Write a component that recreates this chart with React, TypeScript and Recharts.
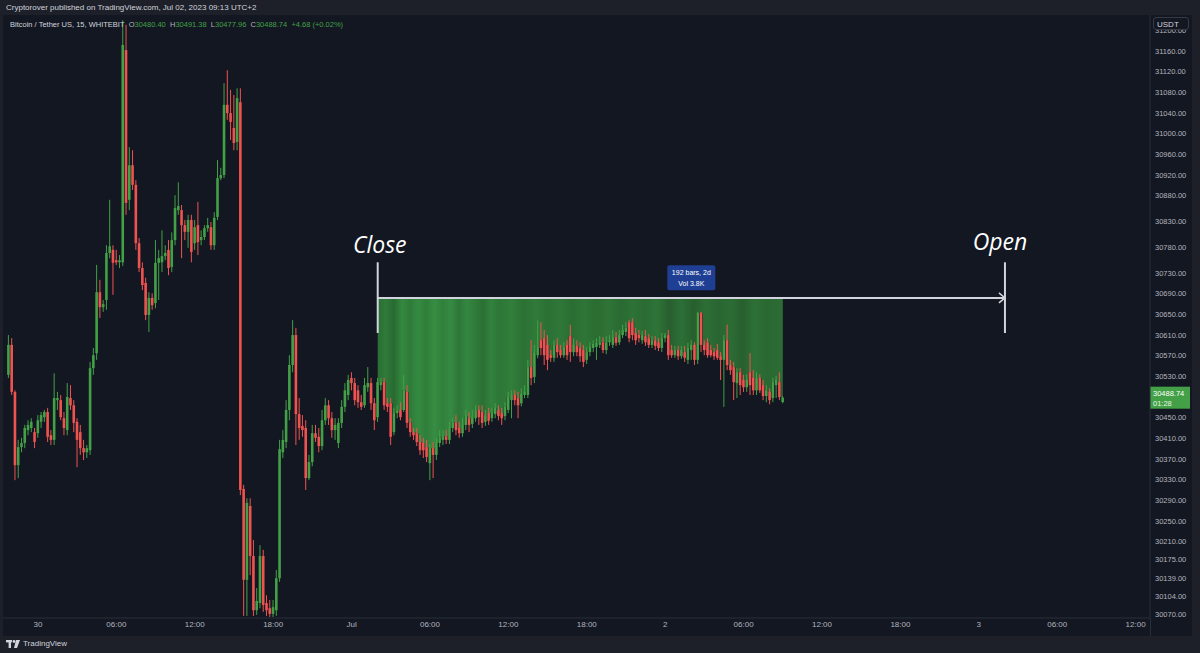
import React from 'react';
import {
  ComposedChart,
  Bar,
  Area,
  XAxis,
  YAxis,
  ReferenceLine,
  ReferenceDot,
} from 'recharts';

// 15m BTC/USDT candles, bar index 0 = Jun 30 00:00
const FIRST_BAR = -9;

const OPEN = [
  30533, 30591, 30500, 30358, 30393, 30401, 30426, 30430, 30422, 30420,
  30442, 30451, 30461, 30416, 30407, 30484, 30484, 30449, 30426, 30488,
  30474, 30442, 30422, 30391, 30383, 30387, 30546, 30575, 30693, 30664,
  30678, 30769, 30775, 30755, 30751, 30751, 31162, 30872, 30939, 30901,
  30788, 30740, 30711, 30649, 30682, 30672, 30750, 30751, 30763, 30775,
  30742, 30794, 30852, 30852, 30823, 30810, 30833, 30788, 30823, 30794,
  30800, 30817, 30819, 30784, 30839, 30914, 30920, 31056, 31040, 31011,
  30984, 31061, 30312, 30136, 30279, 30182, 30077, 30091, 30182, 30091,
  30081, 30070, 30077, 30139, 30383, 30403, 30465, 30552, 30610, 30457,
  30434, 30430, 30333, 30364, 30420, 30413, 30395, 30445, 30474, 30449,
  30426, 30401, 30440, 30471, 30494, 30527, 30517, 30503, 30480, 30474,
  30509, 30517, 30478, 30451, 30513, 30519, 30478, 30478, 30422, 30459,
  30465, 30465, 30500, 30440, 30422, 30420, 30403, 30401, 30393, 30362,
  30391, 30378, 30401, 30407, 30414, 30407, 30430, 30440, 30430, 30420,
  30436, 30449, 30438, 30449, 30465, 30461, 30442, 30459, 30449, 30457,
  30465, 30459, 30453, 30465, 30484, 30494, 30488, 30478, 30494, 30494,
  30548, 30529, 30571, 30600, 30604, 30591, 30571, 30566, 30591, 30581,
  30571, 30591, 30608, 30577, 30589, 30585, 30581, 30562, 30577, 30585,
  30587, 30591, 30596, 30581, 30596, 30591, 30606, 30596, 30610, 30616,
  30635, 30635, 30614, 30610, 30600, 30608, 30604, 30591, 30600, 30596,
  30585, 30604, 30610, 30581, 30571, 30581, 30569, 30577, 30562, 30581,
  30591, 30562, 30653, 30591, 30596, 30581, 30577, 30581, 30569, 30562,
  30600, 30552, 30548, 30517, 30538, 30523, 30509, 30538, 30527, 30503,
  30527, 30513, 30492, 30500, 30488, 30513, 30519, 30480.4,
];

const HIGH = [
  30610, 30604, 30503, 30407, 30411, 30436, 30445, 30449, 30430, 30455,
  30461, 30465, 30469, 30426, 30536, 30500, 30494, 30461, 30517, 30513,
  30484, 30449, 30436, 30407, 30397, 30558, 30585, 30746, 30717, 30678,
  30784, 30872, 30784, 30775, 30765, 31220, 31211, 30974, 30968, 30910,
  30798, 30751, 30721, 30693, 30691, 30794, 30775, 30813, 30784, 30794,
  30809, 30881, 30906, 30862, 30833, 30843, 30843, 30833, 30868, 30813,
  30823, 30837, 30829, 30848, 30949, 30934, 31098, 31123, 31085, 31075,
  31088, 31088, 30320, 30294, 30294, 30213, 30120, 30203, 30194, 30106,
  30097, 30097, 30155, 30407, 30426, 30484, 30571, 30639, 30624, 30488,
  30455, 30445, 30378, 30436, 30436, 30430, 30465, 30488, 30484, 30461,
  30449, 30449, 30484, 30517, 30533, 30538, 30527, 30513, 30494, 30527,
  30548, 30527, 30488, 30527, 30527, 30527, 30488, 30488, 30469, 30474,
  30480, 30533, 30513, 30449, 30430, 30430, 30416, 30411, 30407, 30399,
  30403, 30411, 30426, 30426, 30426, 30442, 30449, 30455, 30442, 30449,
  30465, 30461, 30465, 30474, 30474, 30474, 30465, 30469, 30469, 30478,
  30474, 30469, 30480, 30500, 30503, 30503, 30500, 30507, 30513, 30562,
  30600, 30591, 30639, 30635, 30620, 30610, 30581, 30600, 30604, 30591,
  30596, 30600, 30630, 30604, 30600, 30596, 30591, 30587, 30596, 30600,
  30604, 30608, 30606, 30608, 30610, 30620, 30616, 30620, 30630, 30635,
  30639, 30643, 30624, 30620, 30618, 30620, 30612, 30608, 30608, 30604,
  30614, 30614, 30620, 30591, 30589, 30589, 30589, 30589, 30595, 30600,
  30596, 30655, 30655, 30600, 30604, 30591, 30585, 30593, 30577, 30610,
  30630, 30562, 30558, 30546, 30546, 30533, 30534, 30575, 30542, 30538,
  30534, 30523, 30513, 30507, 30527, 30531, 30538, 30491.38,
];

const LOW = [
  30527, 30494, 30329, 30333, 30383, 30391, 30416, 30422, 30391, 30411,
  30430, 30442, 30403, 30397, 30397, 30465, 30445, 30416, 30416, 30465,
  30422, 30354, 30378, 30368, 30372, 30378, 30533, 30562, 30643, 30655,
  30659, 30759, 30688, 30746, 30740, 30744, 30843, 30852, 30891, 30775,
  30732, 30697, 30639, 30616, 30659, 30662, 30678, 30732, 30755, 30726,
  30732, 30784, 30843, 30759, 30794, 30779, 30751, 30775, 30765, 30784,
  30794, 30810, 30775, 30775, 30833, 30910, 30914, 31027, 30988, 30968,
  30968, 30300, 30066, 30066, 30145, 30066, 30068, 30081, 30074, 30066,
  30064, 30064, 30066, 30132, 30372, 30391, 30445, 30538, 30397, 30407,
  30413, 30310, 30329, 30356, 30403, 30383, 30387, 30436, 30436, 30411,
  30407, 30391, 30430, 30461, 30484, 30503, 30474, 30469, 30465, 30469,
  30500, 30465, 30426, 30442, 30503, 30465, 30461, 30397, 30416, 30449,
  30445, 30461, 30430, 30413, 30407, 30395, 30378, 30372, 30364, 30329,
  30333, 30368, 30393, 30397, 30399, 30399, 30422, 30416, 30411, 30413,
  30426, 30422, 30430, 30442, 30436, 30430, 30434, 30436, 30442, 30449,
  30445, 30436, 30445, 30459, 30449, 30474, 30449, 30472, 30488, 30488,
  30513, 30517, 30565, 30571, 30552, 30542, 30558, 30558, 30566, 30566,
  30566, 30562, 30558, 30569, 30569, 30558, 30548, 30554, 30569, 30577,
  30562, 30585, 30575, 30573, 30589, 30585, 30589, 30591, 30604, 30608,
  30596, 30600, 30591, 30596, 30593, 30589, 30585, 30585, 30581, 30579,
  30577, 30596, 30562, 30566, 30566, 30562, 30564, 30558, 30554, 30562,
  30552, 30554, 30577, 30571, 30566, 30567, 30562, 30562, 30523, 30471,
  30542, 30533, 30484, 30488, 30494, 30500, 30500, 30494, 30494, 30494,
  30498, 30484, 30480, 30476, 30480, 30488, 30484, 30477.96,
];

const CLOSE = [
  30591, 30500, 30358, 30393, 30401, 30430, 30436, 30442, 30403, 30445,
  30455, 30461, 30413, 30407, 30488, 30488, 30451, 30430, 30490, 30474,
  30440, 30407, 30391, 30383, 30391, 30546, 30571, 30693, 30664, 30670,
  30769, 30782, 30750, 30751, 30755, 31172, 30866, 30939, 30901, 30788,
  30740, 30707, 30649, 30682, 30668, 30750, 30759, 30763, 30769, 30740,
  30794, 30856, 30860, 30823, 30810, 30833, 30771, 30819, 30790, 30800,
  30817, 30823, 30784, 30837, 30914, 30920, 31056, 31040, 31023, 30982,
  31069, 30310, 30136, 30285, 30182, 30077, 30095, 30182, 30087, 30077,
  30070, 30083, 30139, 30389, 30407, 30465, 30552, 30610, 30457, 30430,
  30426, 30333, 30364, 30420, 30411, 30395, 30445, 30474, 30449, 30426,
  30436, 30440, 30471, 30503, 30523, 30517, 30484, 30480, 30471, 30513,
  30517, 30478, 30445, 30519, 30519, 30474, 30471, 30413, 30459, 30463,
  30451, 30503, 30440, 30422, 30416, 30403, 30387, 30387, 30374, 30391,
  30378, 30401, 30411, 30414, 30407, 30430, 30440, 30426, 30420, 30436,
  30453, 30436, 30451, 30465, 30451, 30440, 30455, 30444, 30459, 30469,
  30453, 30449, 30471, 30490, 30494, 30484, 30474, 30496, 30500, 30548,
  30527, 30577, 30587, 30585, 30571, 30562, 30566, 30591, 30577, 30571,
  30585, 30571, 30577, 30591, 30577, 30569, 30558, 30577, 30587, 30593,
  30595, 30596, 30581, 30596, 30600, 30606, 30595, 30610, 30620, 30624,
  30604, 30610, 30600, 30604, 30610, 30596, 30591, 30600, 30589, 30585,
  30604, 30610, 30571, 30571, 30581, 30569, 30581, 30566, 30585, 30591,
  30562, 30653, 30591, 30581, 30571, 30571, 30569, 30566, 30562, 30600,
  30552, 30542, 30519, 30538, 30513, 30509, 30523, 30513, 30503, 30527,
  30503, 30492, 30503, 30484, 30519, 30523, 30490, 30488.74,
];

const TIME_TICKS = [0, 24, 48, 72, 96, 120, 144, 168, 192, 216, 240, 264, 288, 312, 336];
const TIME_LABELS = ['30', '06:00', '12:00', '18:00', 'Jul', '06:00', '12:00', '18:00', '2', '06:00', '12:00', '18:00', '3', '06:00', '12:00'];

const PRICE_TICKS = [
  31200, 31160, 31120, 31080, 31040, 31000, 30960, 30920, 30880, 30830, 30780, 30730,
  30690, 30650, 30610, 30570, 30530, 30450, 30410, 30370, 30330, 30290, 30250, 30210,
  30175, 30139, 30104, 30070,
];

// date range tool: Jul 1 02:00 -> Jul 3 02:00 (192 bars)
const RANGE_START = 104;
const RANGE_END = 296;
const RANGE_PRICE = 30682;
const RANGE_MARK_TOP = 30751;
const RANGE_MARK_BOTTOM = 30614;
const LAST_PRICE = 30488.74;

const GREEN = '#43a047';
const RED = '#ef5350';
const TEXT = '#d1d4dc';
const AXIS_TEXT = '#b2b5be';
const BORDER = '#2a2e39';
const FONT = '"Liberation Sans", Arial, sans-serif';

const data = OPEN.map((o, k) => {
  const t = FIRST_BAR + k;
  return {
    t,
    o,
    h: HIGH[k],
    l: LOW[k],
    c: CLOSE[k],
    range: [LOW[k], HIGH[k]],
    zone: t >= RANGE_START ? [Math.max(o, CLOSE[k]), RANGE_PRICE] : null,
  };
});

const Candle = (props: any) => {
  const { x, y, width, height, payload } = props;
  if (!payload) return null;
  const { o, h, l, c } = payload;
  const top = Math.min(y, y + height);
  const span = Math.abs(height);
  const k = h === l ? 0 : span / (h - l);
  const yO = top + (h - o) * k;
  const yC = top + (h - c) * k;
  const color = c >= o ? GREEN : RED;
  const cx = x + width / 2;
  const bodyTop = Math.min(yO, yC);
  const bodyH = Math.max(1, Math.abs(yC - yO));
  return (
    <g>
      <line x1={cx} x2={cx} y1={top} y2={top + span} stroke={color} strokeWidth={1} />
      <rect x={cx - 1.3} y={bodyTop} width={2.6} height={bodyH} fill={color} />
    </g>
  );
};

const BigText = (text: string, dx: number) => (props: any) => (
  <text
    x={props.cx + dx}
    y={props.cy}
    textAnchor="middle"
    fill="#ffffff"
    fontSize={23}
    fontStyle="italic"
    fontFamily='"Open Sans", "Noto Sans", sans-serif'
  >
    {text}
  </text>
);

const InfoBox = (props: any) => {
  const { cx, cy } = props;
  return (
    <g>
      <rect x={cx - 24} y={cy - 13} width={48} height={25} rx={2} fill="#1e3f93" />
      <text x={cx} y={cy - 3} textAnchor="middle" fill="#ffffff" fontSize={7} fontFamily={FONT}>
        192 bars, 2d
      </text>
      <text x={cx} y={cy + 8} textAnchor="middle" fill="#ffffff" fontSize={7} fontFamily={FONT}>
        Vol 3.8K
      </text>
    </g>
  );
};

const Arrow = (props: any) => {
  const { cx, cy } = props;
  return (
    <path
      d={`M${cx - 6},${cy - 5} L${cx},${cy} L${cx - 6},${cy + 5}`}
      fill="none"
      stroke={TEXT}
      strokeWidth={1.5}
    />
  );
};

const PriceTag = (props: any) => {
  const vb = props.viewBox || {};
  const x = (vb.x || 0) + (vb.width || 0);
  const y = vb.y || 0;
  return (
    <g>
      <rect x={x} y={y - 11} width={40} height={22} fill={GREEN} />
      <text x={x + 3} y={y - 2} fill="#ffffff" fontSize={7.5} fontFamily={FONT}>
        30488.74
      </text>
      <text x={x + 3} y={y + 8} fill="#e8f5e9" fontSize={7.5} fontFamily={FONT}>
        01:28
      </text>
    </g>
  );
};

const ZONE_STOPS = [
  ['0', '#2a6e34'], ['0.02', '#2f7a39'], ['0.04', '#286a31'], ['0.06', '#34883f'],
  ['0.08', '#2e7b39'], ['0.1', '#358a41'], ['0.12', '#2f7e3a'], ['0.14', '#378d43'],
  ['0.16', '#30803b'], ['0.18', '#368a42'], ['0.2', '#2d7737'], ['0.22', '#348640'],
  ['0.24', '#2f7c39'], ['0.26', '#2a7034'], ['0.28', '#32823d'], ['0.3', '#2d7637'],
  ['0.33', '#327e3b'], ['0.36', '#2b7134'], ['0.39', '#307a39'], ['0.42', '#2b7035'],
  ['0.45', '#2f7738'], ['0.48', '#2a6d33'], ['0.51', '#2e7537'], ['0.54', '#2a6c32'],
  ['0.57', '#2f7437'], ['0.6', '#296a32'], ['0.63', '#2d7236'], ['0.66', '#2a6b33'],
  ['0.69', '#2e7437'], ['0.72', '#285f2f'], ['0.75', '#2c6f35'], ['0.78', '#275f2e'],
  ['0.81', '#2d6e35'], ['0.84', '#296531'], ['0.87', '#2c6d34'], ['0.9', '#285f2f'],
  ['0.93', '#2d7036'], ['0.96', '#2a6832'], ['1', '#2c6d34'],
];

export default function App() {
  return (
    <div style={{ position: 'relative', width: 1200, height: 653, background: '#1d2029', fontFamily: FONT, overflow: 'hidden' }}>
      <style>{'body{margin:0}'}</style>
      <div style={{ position: 'absolute', left: 6, top: 3, fontSize: 8, color: TEXT }}>
        Cryptorover published on TradingView.com, Jul 02, 2023 09:13 UTC+2
      </div>

      <div style={{ position: 'absolute', left: 3, top: 15, width: 1189, height: 621, background: '#131722' }}>
        <ComposedChart width={1189} height={621} data={data} margin={{ top: 0, right: 0, bottom: 0, left: 0 }}>
          <defs>
            <linearGradient id="zoneFill" x1="0" y1="0" x2="1" y2="0">
              {ZONE_STOPS.map(([off, col]) => (
                <stop key={off} offset={off} stopColor={col} />
              ))}
            </linearGradient>
          </defs>
          <XAxis
            dataKey="t"
            type="number"
            domain={[-10.7, 340.4]}
            allowDataOverflow
            ticks={TIME_TICKS}
            interval={0}
            tickFormatter={(v: number) => TIME_LABELS[TIME_TICKS.indexOf(v)] ?? ''}
            height={18}
            tickLine={false}
            tickSize={0}
            axisLine={{ stroke: BORDER }}
            tick={{ fill: AXIS_TEXT, fontSize: 8, fontFamily: FONT }}
            tickMargin={3}
          />
          <YAxis
            orientation="right"
            type="number"
            domain={[30062, 31230]}
            allowDataOverflow
            ticks={PRICE_TICKS}
            interval={0}
            tickFormatter={(v: number) => v.toFixed(2)}
            width={42}
            tickLine={false}
            tickSize={0}
            axisLine={{ stroke: BORDER }}
            tick={{ fill: AXIS_TEXT, fontSize: 7.5, fontFamily: FONT }}
            tickMargin={5}
          />
          <Area
            dataKey="zone"
            type="step"
            stroke="none"
            fill="url(#zoneFill)"
            fillOpacity={1}
            connectNulls={false}
            dot={false}
            activeDot={false}
            isAnimationActive={false}
          />
          <Bar dataKey="range" barSize={3} shape={<Candle />} isAnimationActive={false} />
          <ReferenceLine
            segment={[{ x: RANGE_START, y: RANGE_PRICE }, { x: RANGE_END, y: RANGE_PRICE }]}
            stroke={TEXT}
            strokeWidth={2}
          />
          <ReferenceLine
            segment={[{ x: RANGE_START, y: RANGE_MARK_TOP }, { x: RANGE_START, y: RANGE_MARK_BOTTOM }]}
            stroke={TEXT}
            strokeWidth={2}
          />
          <ReferenceLine
            segment={[{ x: RANGE_END, y: RANGE_MARK_TOP }, { x: RANGE_END, y: RANGE_MARK_BOTTOM }]}
            stroke={TEXT}
            strokeWidth={2}
          />
          <ReferenceDot x={RANGE_END} y={RANGE_PRICE} r={0} shape={Arrow} />
          <ReferenceDot x={RANGE_START} y={30769} r={0} shape={BigText('Close', 2)} />
          <ReferenceDot x={RANGE_END} y={30775} r={0} shape={BigText('Open', -5)} />
          <ReferenceDot x={200} y={30720} r={0} shape={InfoBox} />
          <ReferenceLine y={LAST_PRICE} stroke="none" label={<PriceTag />} />
        </ComposedChart>

        <div style={{ position: 'absolute', left: 7, top: 5, fontSize: 7.5, color: TEXT, whiteSpace: 'nowrap' }}>
          Bitcoin / Tether US, 15, WHITEBIT&nbsp;&nbsp;
          <span style={{ color: AXIS_TEXT }}>O</span><span style={{ color: GREEN }}>30480.40</span>&nbsp;&nbsp;
          <span style={{ color: AXIS_TEXT }}>H</span><span style={{ color: GREEN }}>30491.38</span>&nbsp;&nbsp;
          <span style={{ color: AXIS_TEXT }}>L</span><span style={{ color: GREEN }}>30477.96</span>&nbsp;&nbsp;
          <span style={{ color: AXIS_TEXT }}>C</span><span style={{ color: GREEN }}>30488.74</span>&nbsp;&nbsp;
          <span style={{ color: GREEN }}>+4.68 (+0.02%)</span>
        </div>

        <div
          style={{
            position: 'absolute', left: 1150, top: 2, width: 36, height: 13, border: '1px solid #363a45',
            borderRadius: 3, background: '#131722', fontSize: 8, color: TEXT, lineHeight: '13px', paddingLeft: 3, boxSizing: 'border-box',
          }}
        >
          USDT
        </div>
        <div style={{ position: 'absolute', left: 1147, top: 603, width: 1, height: 18, background: BORDER }} />
      </div>

      <div style={{ position: 'absolute', left: 6, top: 639, display: 'flex', alignItems: 'center', gap: 3, color: TEXT, fontSize: 8 }}>
        <svg width={14} height={8} viewBox="0 0 14 8">
          <rect x={0} y={0} width={6} height={2.4} fill={TEXT} />
          <rect x={2.6} y={0} width={2.4} height={8} fill={TEXT} />
          <circle cx={8} cy={1.5} r={1.4} fill={TEXT} />
          <path d="M10,0 L14,0 L11,8 L8,8 Z" fill={TEXT} />
        </svg>
        <span>TradingView</span>
      </div>
    </div>
  );
}
